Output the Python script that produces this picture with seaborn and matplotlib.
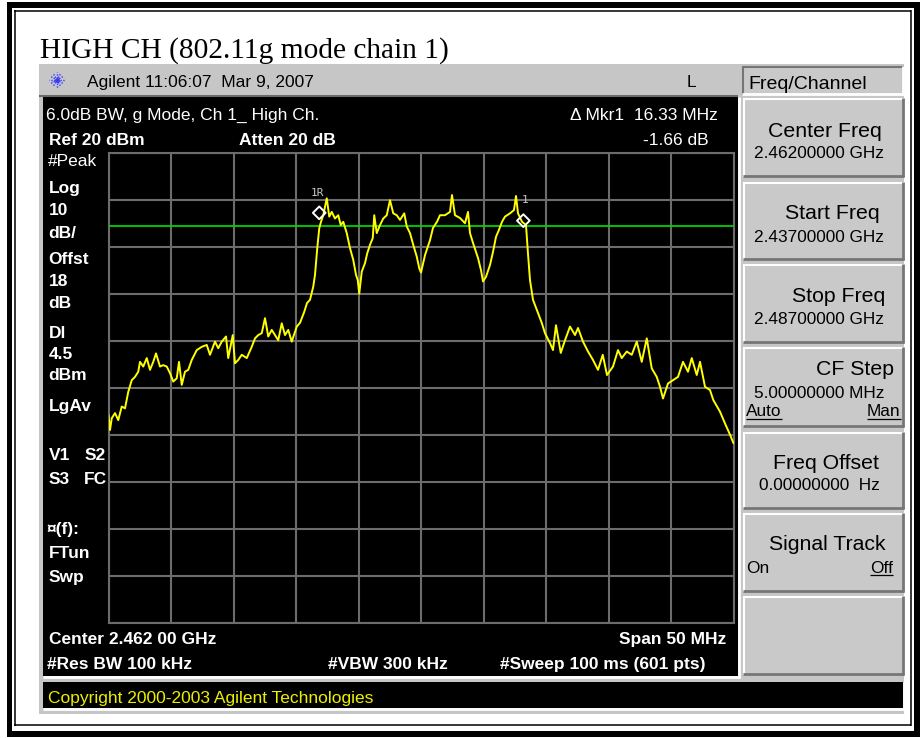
import matplotlib
matplotlib.use("Agg")
import matplotlib.pyplot as plt
from matplotlib.patches import Rectangle
import numpy as np
import pandas as pd
import seaborn as sns

# ---- measured sweep: 2.437 - 2.487 GHz, peak detector ----
freq_mhz = [
    2437.00, 2437.12, 2437.26, 2437.52, 2437.78, 2438.06, 2438.32, 2438.58, 2438.86, 2439.12,
    2439.38, 2439.52, 2439.78, 2440.06, 2440.32, 2440.58, 2440.80, 2441.12, 2441.38, 2441.66,
    2441.92, 2442.18, 2442.46, 2442.64, 2442.86, 2443.12, 2443.38, 2443.66, 2444.06, 2444.46,
    2444.86, 2445.12, 2445.52, 2445.78, 2446.06, 2446.40, 2446.58, 2446.94, 2447.12, 2447.38,
    2447.66, 2448.06, 2448.46, 2448.72, 2448.98, 2449.26, 2449.52, 2449.78, 2450.06, 2450.32,
    2450.58, 2450.86, 2451.12, 2451.38, 2451.66, 2452.06, 2452.32, 2452.64, 2452.88, 2453.12,
    2453.38, 2453.52, 2453.70, 2453.86, 2454.00, 2454.18, 2454.46, 2454.66, 2454.86, 2455.12,
    2455.38, 2455.58, 2455.78, 2456.06, 2456.32, 2456.58, 2456.80, 2456.94, 2457.06, 2457.26,
    2457.52, 2457.70, 2457.92, 2458.14, 2458.26, 2458.46, 2458.72, 2458.98, 2459.26, 2459.52,
    2459.78, 2460.06, 2460.32, 2460.66, 2460.86, 2461.12, 2461.38, 2461.66, 2461.86, 2462.00,
    2462.32, 2462.72, 2462.96, 2463.28, 2463.52, 2463.92, 2464.32, 2464.48, 2464.72, 2465.12,
    2465.52, 2465.76, 2465.92, 2466.16, 2466.56, 2466.80, 2466.96, 2467.20, 2467.52, 2467.76,
    2468.00, 2468.24, 2468.48, 2468.72, 2469.12, 2469.44, 2469.60, 2469.76, 2470.08, 2470.40,
    2470.56, 2470.72, 2470.96, 2471.36, 2471.66, 2471.92, 2472.32, 2472.56, 2472.80, 2473.18,
    2473.52, 2473.92, 2474.32, 2474.56, 2474.96, 2475.36, 2475.76, 2476.16, 2476.54, 2476.88,
    2477.36, 2477.76, 2478.06, 2478.46, 2478.86, 2479.26, 2479.66, 2480.06, 2480.46, 2480.86,
    2481.12, 2481.36, 2481.76, 2482.16, 2482.56, 2482.96, 2483.36, 2483.66, 2484.06, 2484.32,
    2484.72, 2485.12, 2485.38, 2485.92, 2486.32, 2486.72, 2487.00,
]
level_dbm = [
    -35.8, -39.0, -36.5, -35.4, -36.9, -34.0, -34.4, -30.9, -28.4, -27.7,
    -26.6, -24.5, -25.5, -23.7, -26.2, -24.5, -22.7, -25.5, -25.2, -25.5,
    -26.9, -28.7, -28.0, -24.5, -29.4, -26.6, -26.2, -24.1, -22.0, -21.3,
    -20.9, -23.0, -20.2, -21.6, -20.2, -19.1, -23.7, -18.8, -24.8, -24.1,
    -23.0, -23.7, -21.3, -19.5, -18.8, -18.4, -15.2, -19.1, -17.7, -18.8,
    -19.9, -16.3, -18.8, -17.7, -20.2, -17.0, -16.2, -14.0, -12.0, -11.3,
    -8.5, -6.0, -0.3, 3.9, 5.3, 6.7, 10.3, 6.4, 7.4, 6.0,
    6.7, 4.6, 5.3, 2.9, -0.3, -2.8, -6.0, -7.1, -10.0, -5.3,
    -3.5, -1.4, 0.4, 1.8, 6.7, 2.9, 4.6, 6.0, 6.7, 9.9,
    7.1, 6.7, 5.7, 7.1, 4.3, 2.9, 0.4, -2.1, -4.6, -5.5,
    -1.8, 1.4, 4.0, 5.3, 6.7, 6.7, 7.4, 11.0, 6.7, 6.1,
    5.0, 7.4, 2.9, 0.8, -2.4, -5.0, -7.4, -6.4, -3.9, -1.1,
    2.1, 3.6, 5.3, 6.4, 7.1, 7.8, 10.8, 7.1, 5.3, 4.6,
    -1.5, -7.1, -11.3, -14.1, -16.2, -18.4, -20.5, -22.0, -16.7, -22.6,
    -19.9, -17.0, -18.8, -17.3, -20.2, -22.3, -24.1, -26.2, -23.0, -27.3,
    -25.5, -22.0, -23.7, -22.3, -23.0, -20.2, -24.5, -19.5, -25.9, -27.7,
    -29.8, -32.3, -29.1, -28.4, -27.7, -24.5, -26.6, -23.7, -27.3, -24.5,
    -29.8, -30.5, -32.6, -35.1, -37.6, -40.0, -41.8,
]

# instrument settings
start_mhz = 2437.0
stop_mhz = 2487.0
ref_level = 20.0
db_per_div = 10.0
display_line_dbm = 4.5

# 6 dB bandwidth markers
mkr_ref_freq = 2453.86
mkr_ref_level = 7.2
mkr_delta_freq = 16.33
mkr_delta_db = -1.66

sns.set_style("dark")
plt.rcParams["font.family"] = ["Liberation Sans", "DejaVu Sans"]

W, H = 923, 738
fig = plt.figure(figsize=(W / 100, H / 100), dpi=100, facecolor="white")

# page / instrument frame drawn in pixel coordinates
bg = fig.add_axes([0, 0, 1, 1])
bg.set_xlim(0, W)
bg.set_ylim(H, 0)
bg.axis("off")


def rect(x0, y0, x1, y1, color, z=1):
    bg.add_patch(Rectangle((x0, y0), x1 - x0, y1 - y0, facecolor=color,
                           edgecolor="none", zorder=z))


def hline(x0, x1, y, color, lw=1.2, z=3):
    bg.plot([x0, x1], [y, y], color=color, lw=lw, zorder=z, solid_capstyle="butt")


def vline(x, y0, y1, color, lw=1.2, z=3):
    bg.plot([x, x], [y0, y1], color=color, lw=lw, zorder=z, solid_capstyle="butt")


def bevel(x0, y0, x1, y1, raised=True, fill="#c9c9c9"):
    rect(x0, y0, x1, y1, fill, z=2)
    light, dark = ("white", "#767676") if raised else ("#767676", "white")
    hline(x0, x1, y0 + 1, light, 1.5)
    vline(x0 + 1, y0, y1, light, 1.5)
    hline(x0, x1, y1 - 1, dark, 2.0)
    vline(x1 - 1, y0, y1, dark, 2.0)


def txt(x, y, s, size=12.5, bold=False, color="white", ha="left", z=5, **kw):
    return bg.text(x, y, s, fontsize=size, fontweight="bold" if bold else "normal",
                   color=color, ha=ha, va="baseline", zorder=z, **kw)


# double page border
rect(7, 2, 920, 8, "black")
rect(7, 731, 920, 737, "black")
rect(7, 2, 12, 737, "black")
rect(914, 2, 920, 737, "black")
hline(14, 911, 10.5, "black", 1.1)
hline(14, 911, 725, "black", 1.1)
vline(14.5, 10, 725.5, "black", 1.1)
vline(910.5, 10, 725.5, "black", 1.1)

txt(40, 57.5, "HIGH CH (802.11g mode chain 1)", size=21.2, color="black",
    family=["Liberation Serif", "DejaVu Serif"])

# analyzer bezel
rect(39, 64, 904, 714, "#c6c6c6")
hline(39, 738, 95.5, "#6a6a6a", 1.5)

# Agilent spark logo
cx, cy = 57, 80
for a in np.linspace(0, 2 * np.pi, 12, endpoint=False):
    bg.plot([cx + 2.5 * np.cos(a), cx + 8 * np.cos(a)],
            [cy + 2.5 * np.sin(a), cy + 8 * np.sin(a)],
            color="#3a3aff", lw=1.0, ls=(0, (1, 1)), zorder=4)
bg.plot([cx], [cy], marker="o", ms=2.5, color="#3a3aff", zorder=4)
txt(87, 87, "Agilent 11:06:07  Mar 9, 2007", color="black")
txt(687, 87, "L", color="black")

# menu title
bevel(742, 66, 904, 95, raised=False)
txt(748, 89, "Freq/Channel", size=14, color="black")

# screen
rect(43, 97, 738, 676, "black", z=2)
hline(43, 740, 677, "white", 2.0)
vline(739, 97, 678, "white", 2.0)
rect(43, 682, 903, 708, "black", z=2)
hline(43, 904, 709, "white", 2.0)
vline(903.5, 682, 710, "white", 2.0)
txt(48.5, 703.5, "Copyright 2000-2003 Agilent Technologies", color="#eeee00")

# softkeys
keys = [
    (98, 177, "Center Freq", 137, 881.7, "2.46200000 GHz", 157.5, 884),
    (182, 260, "Start Freq", 219, 880, "2.43700000 GHz", 241.5, 884),
    (264, 343, "Stop Freq", 302.5, 885, "2.48700000 GHz", 323.5, 884),
    (347, 427, "CF Step", 375, 894, "5.00000000 MHz", 397.5, 885),
    (432, 509, "Freq Offset", 469.3, 879, "0.00000000  Hz", 490, 880),
    (513, 592, "Signal Track", 550.5, 886, None, None, None),
    (596, 675, None, None, None, None, None, None),
]
for y0, y1, lab, ly, lx, val, vy, vx in keys:
    bevel(743, y0, 904, y1, raised=True)
    if lab:
        txt(lx, ly, lab, size=15.3, color="black", ha="right")
    if val:
        txt(vx, vy, val, size=12.4, color="black", ha="right")

under = []
under.append((txt(746, 416.5, "Auto", size=12.4, color="black"), 418.8))
under.append((txt(900.7, 416.5, "Man", size=12.4, color="black", ha="right"), 418.8))
txt(746.5, 573, "On", size=12.4, color="black")
under.append((txt(893.3, 573, "Off", size=12.4, color="black", ha="right"), 575.3))

# annotation text on the screen
txt(46, 120, "6.0dB BW, g Mode, Ch 1_ High Ch.")
txt(49, 145, "Ref 20 dBm", bold=True)
txt(239, 145, "Atten 20 dB", bold=True)
txt(717.7, 119.5, "\u0394 Mkr1  16.33 MHz", ha="right")
txt(708.3, 145, "-1.66 dB", ha="right")
txt(48, 166.5, "#Peak")

left_col = [("Log", 192.8), ("10", 215.2), ("dB/", 238.2), ("Offst", 264.2),
            ("18", 285.7), ("dB", 308.2), ("Dl", 337.7), ("4.5", 359.2),
            ("dBm", 380.2), ("LgAv", 411.2), ("FTun", 557.9), ("Swp", 582)]
for s, y in left_col:
    txt(48.5, y, s, bold=True)
txt(48.5, 460.2, "V1", bold=True)
txt(85, 460.2, "S2", bold=True)
txt(48.5, 484.2, "S3", bold=True)
txt(83.5, 484.2, "FC", bold=True)
txt(47, 533.9, "\u00a4(f):", bold=True)

txt(49, 643.8, "Center 2.462 00 GHz", bold=True)
txt(726.7, 643.8, "Span 50 MHz", bold=True, ha="right")
txt(47, 668.8, "#Res BW 100 kHz", bold=True)
txt(328, 668.8, "#VBW 300 kHz", bold=True)
txt(705.7, 668.8, "#Sweep 100 ms (601 pts)", bold=True, ha="right")

# ---- trace graticule ----
gx0, gx1, gy0, gy1 = 108.5, 733.5, 152.7, 622.7
ax = fig.add_axes([gx0 / W, 1 - gy1 / H, (gx1 - gx0) / W, (gy1 - gy0) / H])
ax.set_facecolor("black")
ax.set_xlim(start_mhz, stop_mhz)
ax.set_ylim(ref_level - 10 * db_per_div, ref_level)
ax.set_xticks(np.arange(start_mhz, stop_mhz + 0.1, (stop_mhz - start_mhz) / 10))
ax.set_yticks(np.arange(ref_level - 10 * db_per_div, ref_level + 0.1, db_per_div))
ax.grid(True, color="#6c6c6c", lw=1.5)
ax.tick_params(length=0, labelbottom=False, labelleft=False)
for sp in ax.spines.values():
    sp.set_color("#6c6c6c")
    sp.set_linewidth(1.5)

ax.axhline(display_line_dbm, color="#00d200", lw=1.3, zorder=3)

sweep = pd.DataFrame({"freq": freq_mhz, "level": level_dbm})
sns.lineplot(data=sweep, x="freq", y="level", ax=ax, color="#ffff00",
             lw=1.4, estimator=None, zorder=4)
ax.set_xlabel("")
ax.set_ylabel("")

mk_x = [mkr_ref_freq, mkr_ref_freq + mkr_delta_freq]
mk_y = [mkr_ref_level, mkr_ref_level + mkr_delta_db]
ax.scatter(mk_x, mk_y, marker="D", s=42, facecolor="none", edgecolor="white",
           linewidth=1.4, zorder=6)
ax.annotate("1R", (mk_x[0], mk_y[0]), xytext=(-1, 11), textcoords="offset points",
            ha="center", va="bottom", color="#c8c8c8", fontsize=8,
            family=["DejaVu Sans Mono"], zorder=6)
ax.annotate("1", (mk_x[1], mk_y[1]), xytext=(1.5, 11), textcoords="offset points",
            ha="center", va="bottom", color="#c8c8c8", fontsize=8,
            family=["DejaVu Sans Mono"], zorder=6)

# underline the selected softkey options
fig.canvas.draw()
rend = fig.canvas.get_renderer()
inv = bg.transData.inverted()
for t, uy in under:
    bb = t.get_window_extent(rend)
    (ux0, _), (ux1, _) = inv.transform([(bb.x0, bb.y0), (bb.x1, bb.y1)])
    hline(ux0, ux1, uy, "black", 0.9, z=6)

fig.savefig("out.png", dpi=100, facecolor="white")
